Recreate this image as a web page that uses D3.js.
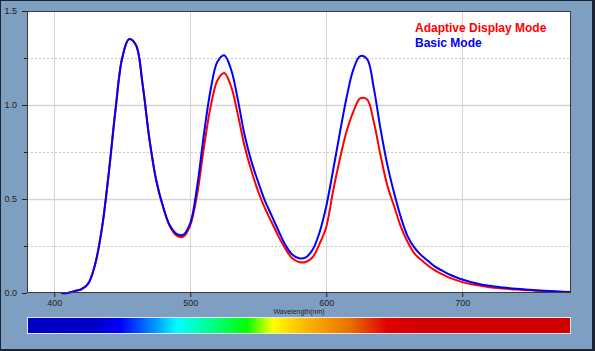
<!DOCTYPE html>
<html>
<head>
<meta charset="utf-8">
<script src="https://cdn.jsdelivr.net/npm/d3@7/dist/d3.min.js"></script>
<style>
  html, body { margin: 0; padding: 0; background: #7f9fc2; }
  svg { display: block; }
  text { font-family: "Liberation Sans", Arial, sans-serif; }
</style>
</head>
<body>
<svg id="chart" width="595" height="351"></svg>
<script>
// ---- data ----
const wavelengths = [405,410,415,420,425,430,435,440,445,450,455,460,465,470,475,480,485,490,495,500,505,510,515,520,525,530,535,540,545,550,555,560,565,570,575,580,585,590,595,600,605,610,615,620,625,630,635,640,645,650,655,660,665,670,675,680,685,690,695,700,710,720,730,740,750,760,770,780];
const basicMode = [0,0,0.01,0.02,0.05,0.15,0.34,0.63,0.97,1.25,1.35,1.32,1.11,0.82,0.60,0.46,0.36,0.315,0.31,0.37,0.56,0.84,1.08,1.23,1.265,1.19,1.03,0.84,0.70,0.59,0.49,0.41,0.33,0.255,0.205,0.185,0.19,0.23,0.32,0.46,0.65,0.85,1.04,1.19,1.26,1.245,1.09,0.87,0.68,0.53,0.40,0.30,0.24,0.20,0.17,0.14,0.12,0.10,0.085,0.072,0.052,0.038,0.029,0.022,0.017,0.012,0.008,0.005];
const adaptiveMode = [0,0,0.01,0.02,0.05,0.15,0.34,0.63,0.97,1.25,1.35,1.32,1.11,0.82,0.60,0.46,0.355,0.305,0.30,0.36,0.52,0.77,0.99,1.13,1.17,1.10,0.95,0.78,0.65,0.54,0.45,0.375,0.30,0.235,0.185,0.165,0.165,0.19,0.26,0.35,0.54,0.71,0.86,0.965,1.035,1.03,0.91,0.73,0.57,0.46,0.35,0.27,0.21,0.175,0.145,0.12,0.10,0.083,0.07,0.058,0.042,0.031,0.024,0.018,0.014,0.010,0.007,0.004];
const seriesNames = ["Adaptive Display Mode", "Basic Mode"];
const xTicks = [400, 500, 600, 700];
const yMajorTicks = [0, 0.5, 1.0, 1.5];
const yMinorTicks = [0.25, 0.75, 1.25];
const xTitle = "Wavelength(nm)";
const spectrumStops = [
  [0, "#0000c4"], [0.129, "#0000c8"], [0.171, "#0000ff"], [0.232, "#0090ff"],
  [0.276, "#00ffff"], [0.336, "#00ff90"], [0.404, "#00ff00"], [0.452, "#ffff00"],
  [0.502, "#ffc000"], [0.594, "#e87000"], [0.662, "#e00000"], [0.72, "#d20000"], [1, "#d00000"]
];

// ---- layout ----
const W = 595, H = 351;
const L = 27, R = 571, T = 11, B = 293;
const svg = d3.select("#chart");

// window frame
svg.append("rect").attr("x", 0).attr("y", 0).attr("width", W).attr("height", H).attr("fill", "#7f9fc2");
svg.append("rect").attr("x", 0).attr("y", 0).attr("width", W).attr("height", 1).attr("fill", "#1c2433");
svg.append("rect").attr("x", 0).attr("y", 0).attr("width", 1).attr("height", H).attr("fill", "#1c2433");
svg.append("rect").attr("x", W - 3).attr("y", 0).attr("width", 3).attr("height", H).attr("fill", "#1c2433");
svg.append("rect").attr("x", 0).attr("y", H - 2).attr("width", W).attr("height", 2).attr("fill", "#1c2433");

const x = d3.scaleLinear().domain([380, 780]).range([L, R]);
const y = d3.scaleLinear().domain([0, 1.5]).range([B, T]);

// plot background
svg.append("rect").attr("x", L).attr("y", T).attr("width", R - L).attr("height", B - T).attr("fill", "#ffffff");

// grid
const grid = svg.append("g");
grid.selectAll(".vg").data(xTicks).enter().append("line")
  .attr("x1", d => Math.round(x(d)) + 0.5).attr("x2", d => Math.round(x(d)) + 0.5)
  .attr("y1", T).attr("y2", B).attr("stroke", "#d4d4d4").attr("stroke-width", 1);
grid.selectAll(".hg").data(yMajorTicks.filter(d => d > 0 && d < 1.5)).enter().append("line")
  .attr("x1", L).attr("x2", R)
  .attr("y1", d => Math.round(y(d)) + 0.5).attr("y2", d => Math.round(y(d)) + 0.5)
  .attr("stroke", "#d4d4d4").attr("stroke-width", 1.5);
grid.selectAll(".hm").data(yMinorTicks).enter().append("line")
  .attr("x1", L).attr("x2", R)
  .attr("y1", d => Math.round(y(d)) + 0.5).attr("y2", d => Math.round(y(d)) + 0.5)
  .attr("stroke", "#c8c8c8").attr("stroke-width", 1).attr("stroke-dasharray", "2,2");

// lines
const lineGen = (vals) => d3.line()
  .x((d, i) => x(wavelengths[i]))
  .y(d => y(d))
  .curve(d3.curveCatmullRom.alpha(0.5))(vals);

svg.append("path").attr("d", lineGen(adaptiveMode)).attr("fill", "none")
  .attr("stroke", "#ff0000").attr("stroke-width", 2);
svg.append("path").attr("d", lineGen(basicMode)).attr("fill", "none")
  .attr("stroke", "#0000ff").attr("stroke-width", 2);

// plot border
svg.append("rect").attr("x", L + 0.5).attr("y", T + 0.5).attr("width", R - L - 1).attr("height", B - T - 1)
  .attr("fill", "none").attr("stroke", "#3a3a3a").attr("stroke-width", 1);

// y axis
const yAxis = d3.axisLeft(y).tickValues(yMajorTicks).tickFormat(d3.format(".1f")).tickSize(5).tickPadding(5);
const gy = svg.append("g").attr("transform", `translate(${L},0)`).call(yAxis);
gy.select(".domain").remove();
gy.selectAll("line").attr("stroke", "#222");
gy.selectAll("text").attr("font-size", "9px").attr("fill", "#222").attr("font-family", "'Liberation Sans', Arial, sans-serif");
const gym = svg.append("g").attr("transform", `translate(${L},0)`)
  .call(d3.axisLeft(y).tickValues(yMinorTicks).tickSize(3).tickFormat(""));
gym.select(".domain").remove();
gym.selectAll("line").attr("stroke", "#222");

// x axis
const xAxis = d3.axisBottom(x).tickValues(xTicks).tickFormat(d3.format("d")).tickSize(4).tickPadding(3);
const gx = svg.append("g").attr("transform", `translate(0,${B})`).call(xAxis);
gx.select(".domain").remove();
gx.selectAll("line").attr("stroke", "#222");
gx.selectAll("text").attr("font-size", "9px").attr("fill", "#222").attr("font-family", "'Liberation Sans', Arial, sans-serif");

svg.append("text").attr("x", (L + R) / 2).attr("y", 314).attr("text-anchor", "middle")
  .attr("font-size", "7px").attr("fill", "#222").text(xTitle);

// legend
const legendColors = ["#ff0000", "#0000ff"];
svg.selectAll(".leg").data(seriesNames).enter().append("text")
  .attr("x", 415).attr("y", (d, i) => 32 + i * 14.5)
  .attr("font-size", "12px").attr("font-weight", "bold")
  .attr("fill", (d, i) => legendColors[i]).text(d => d);

// spectrum bar
const defs = svg.append("defs");
const grad = defs.append("linearGradient").attr("id", "spec").attr("x1", "0%").attr("x2", "100%").attr("y1", "0%").attr("y2", "0%");
grad.selectAll("stop").data(spectrumStops).enter().append("stop")
  .attr("offset", d => d[0]).attr("stop-color", d => d[1]);
svg.append("rect").attr("x", L + 0.5).attr("y", 317.5).attr("width", R - L - 1).attr("height", 16)
  .attr("fill", "url(#spec)").attr("stroke", "#e4e8f0").attr("stroke-width", 1);
</script>
</body>
</html>
